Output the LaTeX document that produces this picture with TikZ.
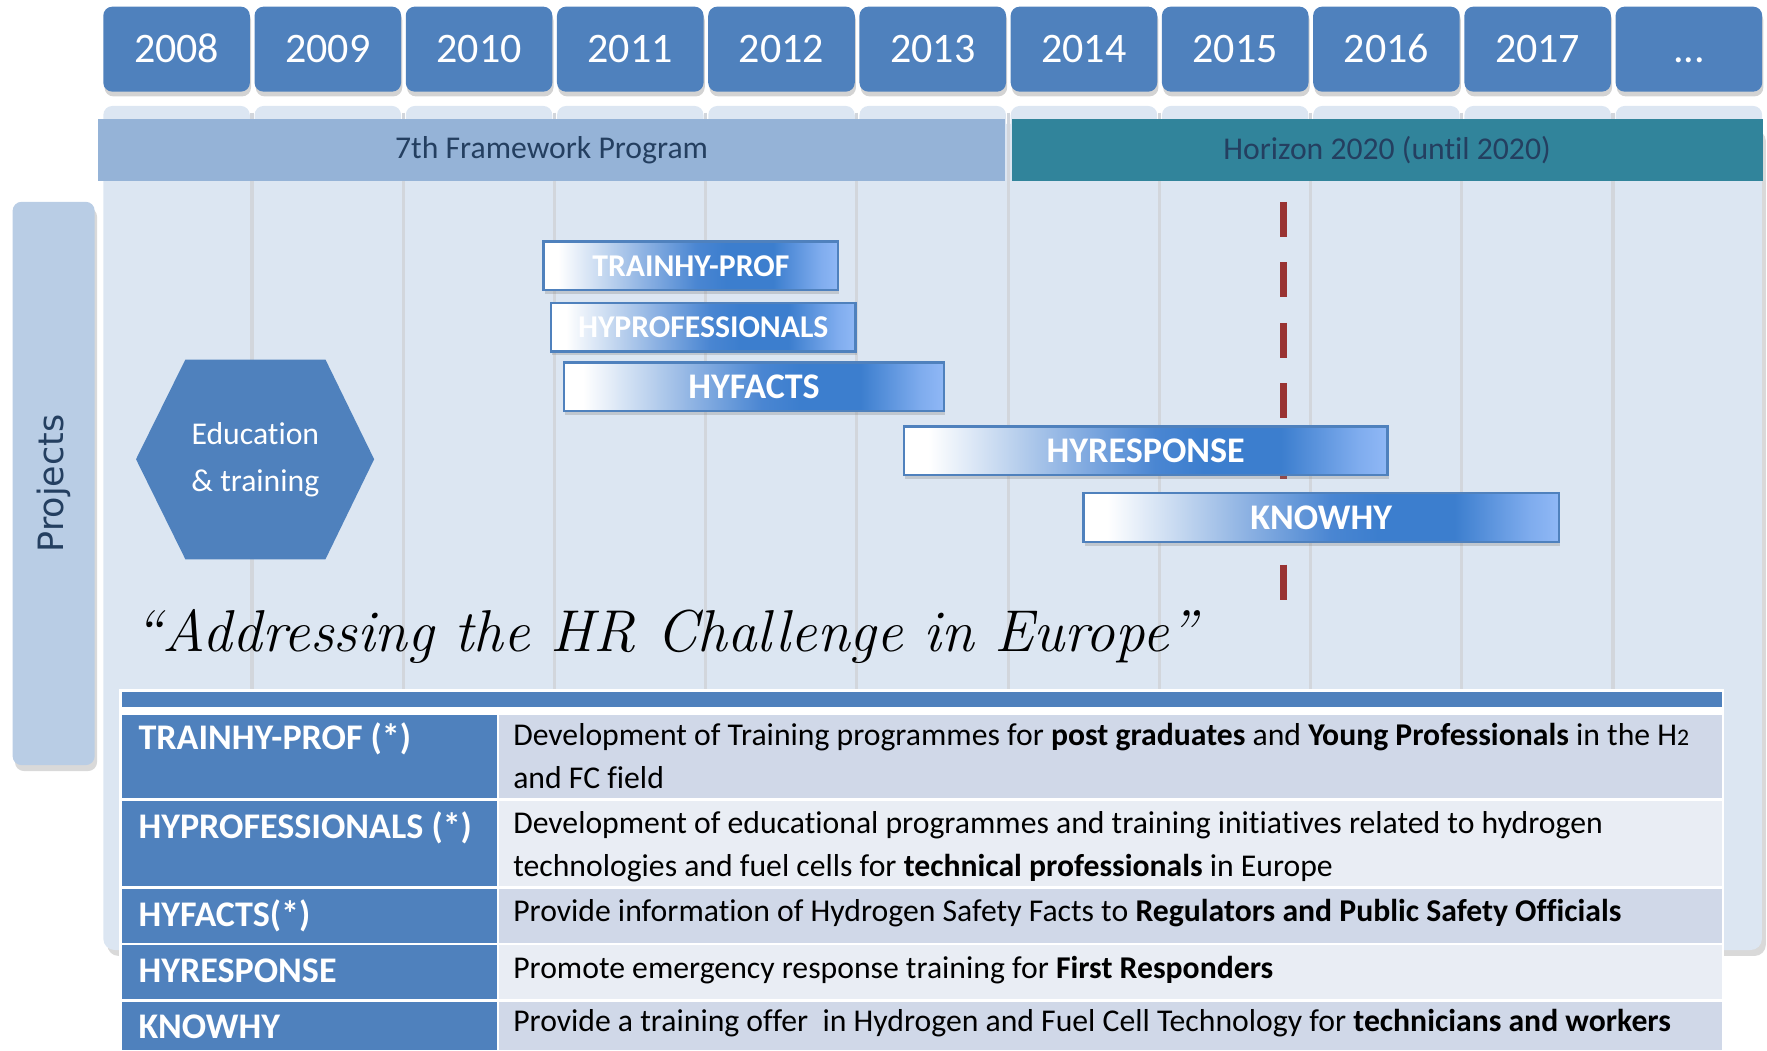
\documentclass[tikz,border=0pt]{standalone}
\usepackage{fontspec}
\newfontfamily\carlito{Carlito}[Ligatures=NoCommon]
\newfontfamily\dejavu{DejaVu Sans}
\usetikzlibrary{shadows}

\definecolor{boxblue}{HTML}{4F81BD}
\definecolor{panel}{HTML}{DCE6F2}
\definecolor{fpseven}{HTML}{95B3D7}
\definecolor{horizon}{HTML}{31849B}
\definecolor{bandtext}{HTML}{243F60}
\definecolor{projbar}{HTML}{B9CDE5}
\definecolor{sepgray}{HTML}{D2D6DC}
\definecolor{cutred}{HTML}{993333}
\definecolor{rowdark}{HTML}{D0D8E8}
\definecolor{rowlight}{HTML}{E9EDF4}
\definecolor{barA}{HTML}{C5D8F0}
\definecolor{barB}{HTML}{8AB0E2}
\definecolor{barC}{HTML}{4A86D2}
\definecolor{barD}{HTML}{3C7ECE}
\definecolor{barE}{HTML}{90B8F6}

\pgfdeclarehorizontalshading{barshade}{100bp}{color(0bp)=(white); color(25bp)=(white);
  color(27.5bp)=(white); color(35bp)=(barA); color(42.5bp)=(barB); color(51bp)=(barC);
  color(56bp)=(barD); color(64bp)=(barD); color(72bp)=(barE!80!barD); color(75bp)=(barE);
  color(100bp)=(barE)}

\begin{document}
\begin{tikzpicture}[x=0.01cm, y=-0.01cm,
    yearbox/.style={fill=boxblue, rounded corners=0.08cm, minimum width=1.3cm, minimum height=0.754cm,
      inner sep=0pt, text=white, text height=6.6pt, text depth=0pt,
      font={\carlito\fontsize{10.6}{12}\selectfont},
      drop shadow={shadow xshift=0.3pt, shadow yshift=-1.2pt, opacity=0.35}},
    band/.style={minimum height=0.55cm, inner sep=0pt, text=bandtext,
      font={\carlito\fontsize{8}{10}\selectfont}},
    sepline/.style={sepgray, line width=0.8pt},
    bar/.style={draw=boxblue, line width=0.6pt, shade, shading=barshade, text=white, inner sep=0pt,
      minimum height=0.43cm, drop shadow={shadow xshift=0.3pt, shadow yshift=-1pt, opacity=0.3}},
    smallbar/.style={bar, font={\carlito\bfseries\fontsize{8}{10}\selectfont}},
    bigbar/.style={bar, font={\carlito\bfseries\fontsize{9.1}{11}\selectfont}},
    cutline/.style={cutred, line width=1.85pt, dash pattern=on 0.31cm off 0.226cm},
    lefttext/.style={anchor=base west, inner sep=0pt, text=white,
      font={\carlito\bfseries\fontsize{9.1}{11}\selectfont}},
    righttext/.style={anchor=base west, inner sep=0pt, align=left, text=black,
      font={\carlito\fontsize{8}{10.8}\selectfont}}]
\useasboundingbox (0,0) rectangle (1568,932);

% background panel with the year columns
\fill[panel, rounded corners=0.1cm, drop shadow={shadow xshift=1pt, shadow yshift=-1.5pt, opacity=0.3}]
  (91.7,110) rectangle (1563.5,843);
\foreach \i in {0,...,10}
  \fill[panel, rounded corners=0.08cm] (91.7+134.2*\i,94) rectangle ++(130,40);
\foreach \i in {0,...,9}
  \draw[sepline] (223.6+134.2*\i,100) -- (223.6+134.2*\i,612);

% years
\foreach \yr [count=\i from 0] in {2008,...,2017}
  \node[yearbox] (y\yr) at (156.7+134.2*\i,43.6) {\yr};
\node[yearbox] (ymore) at (156.7+134.2*10,43.6) {...};

% programmes
\node[band, fill=fpseven, minimum width=8.037cm] (fp7) at (489.45,133.1) {7th Framework Program};
\node[band, fill=horizon, minimum width=6.662cm] (h2020) at (1230.9,133.1) {Horizon 2020 (until 2020)};

% side bar
\node[fill=projbar, rounded corners=0.08cm, rotate=90, minimum width=4.996cm, minimum height=0.728cm,
  inner sep=0pt, text=bandtext, font={\dejavu\fontsize{8.8}{10}\selectfont},
  drop shadow={shadow xshift=0.6pt, shadow yshift=-1.5pt, opacity=0.3}] (projects) at (47.6,429) {Projects};

% education hexagon
\fill[boxblue] (120.7,407.5) -- (164.5,319) -- (288.8,319) -- (332,407.5) -- (288.8,496.3) -- (164.5,496.3) -- cycle;
\node[align=center, inner sep=0pt, text=white, font={\carlito\fontsize{8}{11.7}\selectfont}] (edu)
  at (226.6,408) {Education\\\& training};

% cut-off line
\coordinate (cuttop) at (1138.7,179.2);
\coordinate (cutbot) at (1138.7,532);
\draw[cutline] (cuttop) -- (cutbot);

% project bars
\node[smallbar, minimum width=2.614cm] (trainhy) at (613,235.9) {TRAINHY-PROF};
\node[smallbar, minimum width=2.70cm] (hyprof) at (624,290.4) {HYPROFESSIONALS};
\node[bigbar, minimum width=3.368cm] (hyfacts) at (669.1,343.3) {HYFACTS};
\node[bigbar, minimum width=4.286cm] (hyresp) at (1016.7,400) {HYRESPONSE};
\node[bigbar, minimum width=4.216cm] (knowhy) at (1172.4,459.2) {KNOWHY};

% motto
\node[anchor=base west, inner sep=0pt, font={\itshape\fontsize{14.9}{16}\selectfont}] (motto)
  at (119,578) {“Addressing the HR Challenge in Europe”};

% table
\fill[white] (106,611) rectangle (1530,932);
\fill[boxblue] (108.5,614.3) rectangle (1527.8,627);
\foreach \top/\bot/\rowcol in {634.4/708.4/rowdark, 710.4/786.2/rowlight, 788.8/836.4/rowdark,
    838.5/886.4/rowlight, 888.8/932/rowdark} {
  \fill[boxblue] (108.5,\top) rectangle (440.6,\bot);
  \fill[\rowcol] (443.1,\top) rectangle (1527.8,\bot);
}
\node[lefttext] (ltp) at (122.2,665.5) {TRAINHY-PROF (*)};
\node[lefttext] (lhp) at (122.2,743.9) {HYPROFESSIONALS (*)};
\node[lefttext] (lhf) at (122.2,822.3) {HYFACTS(*)};
\node[lefttext] (lhr) at (122.2,872) {HYRESPONSE};
\node[lefttext] (lkw) at (122.2,921.3) {KNOWHY};
\node[righttext] (rtp) at (454.8,699.5) {Development of Training programmes for \textbf{post graduates} and
  \textbf{Young Professionals} in the H{\fontsize{6}{7}\selectfont 2}\\and FC field};
\node[righttext] (rhp) at (454.8,777.9) {Development of educational programmes and training initiatives related to hydrogen\\
  technologies and fuel cells for \textbf{technical professionals} in Europe};
\node[righttext] (rhf) at (454.8,817.8) {Provide information of Hydrogen Safety Facts to \textbf{Regulators and Public Safety Officials}};
\node[righttext] (rhr) at (454.8,868) {Promote emergency response training for \textbf{First Responders}};
\node[righttext] (rkw) at (454.8,915.4) {Provide a training offer~ in Hydrogen and Fuel Cell Technology for \textbf{technicians and workers}};
\end{tikzpicture}
\end{document}
